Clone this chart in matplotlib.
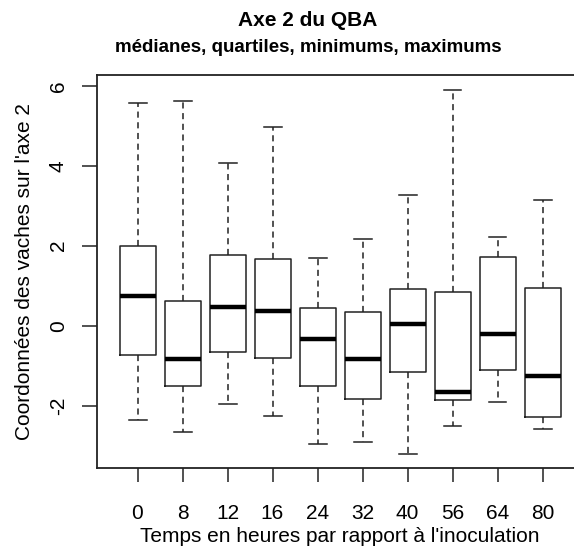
import matplotlib
matplotlib.use("Agg")
import matplotlib.pyplot as plt

plt.rcParams["font.family"] = ["Liberation Sans", "DejaVu Sans"]

# Temps (h) et statistiques
temps = ["0", "8", "12", "16", "24", "32", "40", "56", "64", "80"]
minimums = [-2.37, -2.66, -1.97, -2.27, -2.95, -2.92, -3.21, -2.52, -1.92, -2.58]
q1 = [-0.73, -1.50, -0.67, -0.81, -1.50, -1.83, -1.17, -1.87, -1.10, -2.29]
medianes = [0.73, -0.84, 0.47, 0.36, -0.33, -0.84, 0.03, -1.67, -0.22, -1.27]
q3 = [2.00, 0.62, 1.78, 1.67, 0.43, 0.33, 0.91, 0.83, 1.71, 0.94]
maximums = [5.56, 5.63, 4.07, 4.98, 1.70, 2.18, 3.27, 5.89, 2.21, 3.15]

W, H = 574, 558
fig = plt.figure(figsize=(W / 100, H / 100), dpi=100)
ax = fig.add_axes([97 / W, (H - 468) / H, (583 - 97) / W, (468 - 75) / H])

stats = [
    {"whislo": lo, "q1": a, "med": m, "q3": b, "whishi": hi, "label": t}
    for t, lo, a, m, b, hi in zip(temps, minimums, q1, medianes, q3, maximums)
]
ax.bxp(
    stats, positions=range(1, len(temps) + 1), widths=0.8, showfliers=False,
    boxprops=dict(color="#222222", linewidth=1.1),
    medianprops=dict(color="black", linewidth=3.2, solid_capstyle="butt"),
    whiskerprops=dict(color="#222222", linewidth=1.1, linestyle=(0, (4, 3))),
    capprops=dict(color="#222222", linewidth=1.1),
    capwidths=0.4,
)

ax.set_xlim(0.1, 10.9)
ax.set_ylim(-3.56, 6.27)
ax.set_yticks([-2, 0, 2, 4, 6])
ax.set_yticklabels(["-2", "0", "2", "4", "6"], rotation=90, va="center")
ax.tick_params(axis="y", length=11, width=1.1, pad=10, labelsize=15, color="#222222")
ax.tick_params(axis="x", length=10, width=1.1, pad=16, labelsize=15, color="#222222")
for s in ax.spines.values():
    s.set_linewidth(1.3)
    s.set_color("#222222")

ax.set_xlabel("Temps en heures par rapport à l'inoculation", fontsize=15, labelpad=3)
ax.set_ylabel("Coordonnées des vaches sur l'axe 2", fontsize=15, labelpad=11)

fig.text(308 / W, 1 - 20 / H, "Axe 2 du QBA", ha="center", va="center",
         fontsize=15, fontweight="bold")
fig.text(308 / W, 1 - 48 / H, "médianes, quartiles, minimums, maximums",
         ha="center", va="center", fontsize=13.5, fontweight="bold")

fig.savefig("out.png", dpi=100)
